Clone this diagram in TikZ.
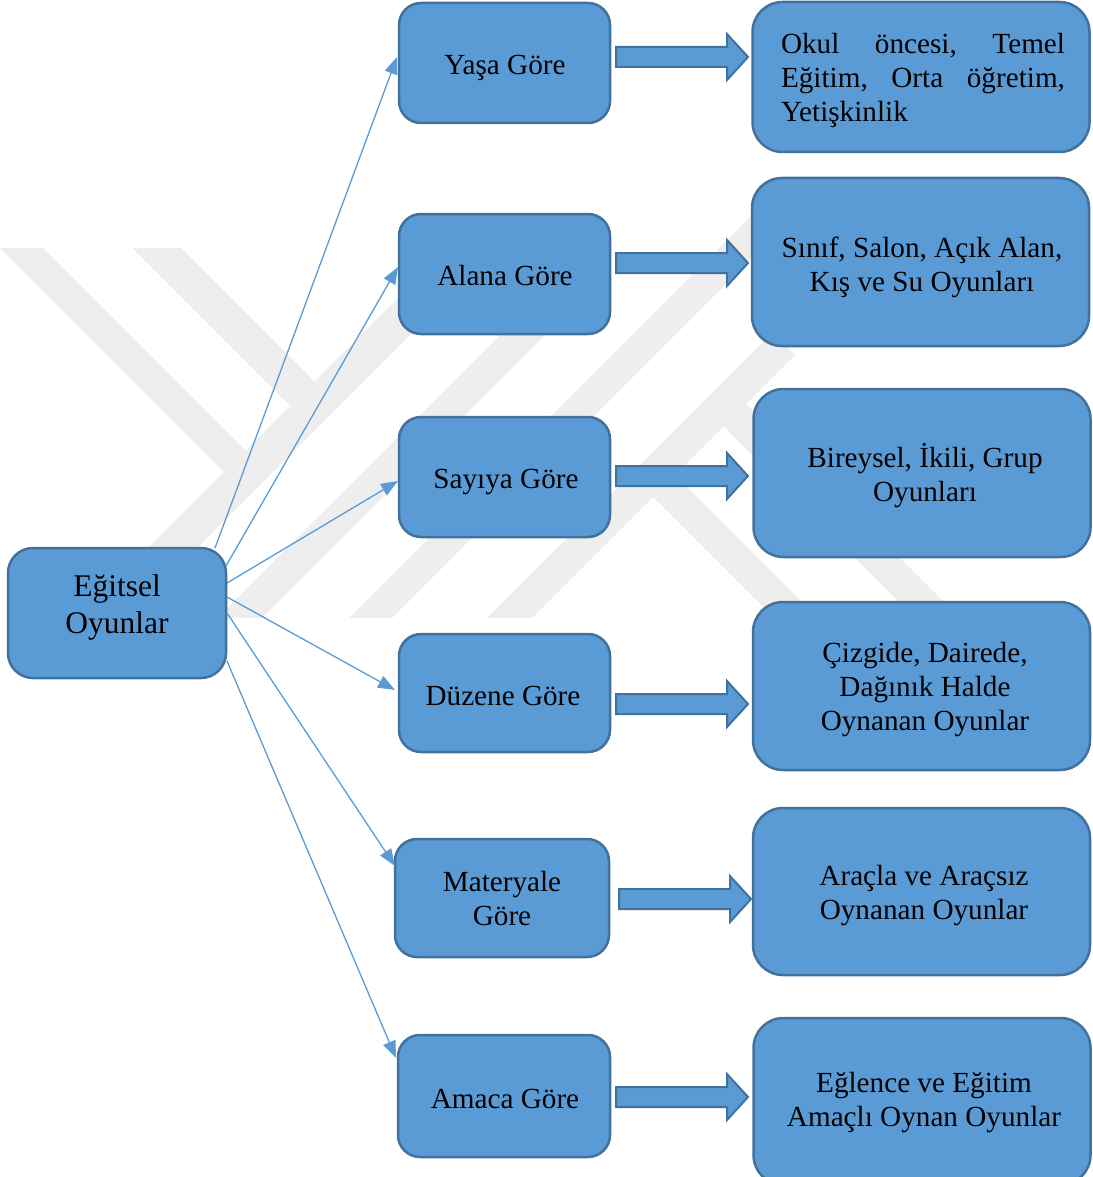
\documentclass[tikz,border=0pt]{standalone}
\usepackage{fontspec}
\setmainfont{Liberation Serif}
\usetikzlibrary{arrows.meta,calc}
\definecolor{boxc}{HTML}{5B9BD5}
\definecolor{bordc}{HTML}{41719C}
\definecolor{linec}{HTML}{5B9BD5}
\definecolor{wm}{HTML}{EEEEEE}
\tikzset{
  box/.style={draw=bordc, fill=boxc, line width=2.5pt, inner sep=0pt, outer sep=0pt},
  midbox/.style={box, rounded corners=22pt},
  rbox/.style={box, rounded corners=30pt, minimum width=337pt, minimum height=168pt},
  txt/.style={font=\fontsize{29.2}{34}\selectfont, align=center, inner sep=0pt, text=black},
  conn/.style={draw=linec, line width=1.3pt, -{Triangle[length=17pt,width=13pt]}},
  barrowstyle/.style={fill=boxc, draw=bordc, line width=2pt, line join=miter},
  barrow/.pic={\path[barrowstyle] (0,-10) -- (111,-10) -- (111,-23) -- (132,0) -- (111,23) -- (111,10) -- (0,10) -- cycle;}
}
\begin{document}
\begin{tikzpicture}[x=1pt,y=-1pt]
\useasboundingbox (0,0) rectangle (1092,1177);
% faint background watermark
\fill[wm] (0,248) -- (43,248) -- (257.5,462.5) -- (236,484) -- cycle;
\fill[wm] (132,248) -- (181,248) -- (326.5,393.5) -- (302,418) -- cycle;
\fill[wm] (78,618) -- (408,288) -- (432.5,312.5) -- (127,618) -- cycle;
\fill[wm] (217,618) -- (547.5,287.5) -- (570,310) -- (262,618) -- cycle;
\fill[wm] (349,618) -- (753.5,213.5) -- (775,235) -- (392,618) -- cycle;
\fill[wm] (487,618) -- (772.5,332.5) -- (795,355) -- (532,618) -- cycle;
\fill[wm] (700.5,404.5) -- (723.5,426.5) -- (915,618) -- (960,618) -- (745.5,403.5) -- cycle;
\fill[wm] (641.5,485.5) -- (663.5,463.5) -- (818,618) -- (774,618) -- cycle;

% centre box
\node[box, rounded corners=25pt, minimum width=218pt, minimum height=130pt] (c) at (117,613) {};
\node[txt, font=\fontsize{31.5}{37}\selectfont] (ct) at (117,607) {Eğitsel\\Oyunlar};

% middle boxes
\node[midbox, minimum width=211pt, minimum height=120pt] (yasa) at (504.5,63) {};
\node[midbox, minimum width=211pt, minimum height=120pt] (alana) at (504.5,274) {};
\node[midbox, minimum width=211pt, minimum height=120pt] (sayiya) at (504.5,477) {};
\node[midbox, minimum width=211pt, minimum height=118pt] (duzene) at (504.5,693) {};
\node[midbox, minimum width=214pt, minimum height=118pt] (materyale) at (502,898) {};
\node[midbox, minimum width=212pt, minimum height=122pt] (amaca) at (504,1096) {};
\node[txt] (yasat) at (505,68) {Yaşa Göre};
\node[txt] (alanat) at (505,276) {Alana Göre};
\node[txt] (sayiyat) at (506,482) {Sayıya Göre};
\node[txt] (duzenet) at (503,696) {Düzene Göre};
\node[txt] (materyalet) at (502,899) {Materyale\\Göre};
\node[txt] (amacat) at (505,1099) {Amaca Göre};

% right boxes
\node[rbox, minimum height=150pt] (okul) at (921,77) {};
\node[rbox] (sinif) at (920.5,262) {};
\node[rbox] (bireysel) at (922,473) {};
\node[rbox] (cizgide) at (921.5,686) {};
\node[rbox, minimum height=167pt] (aracla) at (921.5,891.5) {};
\node[rbox, minimum height=167pt] (eglence) at (922,1101.5) {};
\node[txt, align=left, text width=284pt] (okult) at (923,80) {%
  \leavevmode\hbox to 284pt{Okul\hfill öncesi,\hfill Temel}\\
  \leavevmode\hbox to 284pt{Eğitim,\hfill Orta\hfill öğretim,}\\
  Yetişkinlik};
\node[txt] (sinift) at (922,267.5) {Sınıf, Salon, Açık Alan,\\Kış ve Su Oyunları};
\node[txt] (bireyselt) at (925,475.5) {Bireysel, İkili, Grup\\Oyunları};
\node[txt] (cizgidet) at (925,690) {Çizgide, Dairede,\\Dağınık Halde\\Oynanan Oyunlar};
\node[txt] (araclat) at (924,895.5) {Araçla ve Araçsız\\Oynanan Oyunlar};
\node[txt] (eglencet) at (924,1102.5) {Eğlence ve Eğitim\\Amaçlı Oynan Oyunlar};

% thin connectors
\draw[conn] ($(c.north east)+(-11,0)$) -- ($(yasa.west)+(-2,-6)$);
\draw[conn] ($(c.north east)+(0,18)$) -- ($(alana.west)+(-1,-7)$);
\draw[conn] ($(c.north east)+(1,35)$) -- ($(sayiya.west)+(-1,4)$);
\draw[conn] ($(c.north east)+(1,49)$) -- ($(duzene.west)+(-4,-3)$);
\draw[conn] ($(c.east)+(1,0)$) -- ($(materyale.west)+(0,-32)$);
\draw[conn] ($(c.east)+(1,48)$) -- ($(amaca.west)+(-2,-38)$);

% block arrows
\pic at ($(yasa.east)+(6,-6)$) {barrow};
\pic at ($(alana.east)+(6,-11)$) {barrow};
\pic at ($(sayiya.east)+(6,-1)$) {barrow};
\pic at ($(duzene.east)+(6,11)$) {barrow};
\pic at ($(materyale.east)+(10,1)$) {barrow};
\pic at ($(amaca.east)+(6,1)$) {barrow};
\end{tikzpicture}
\end{document}
